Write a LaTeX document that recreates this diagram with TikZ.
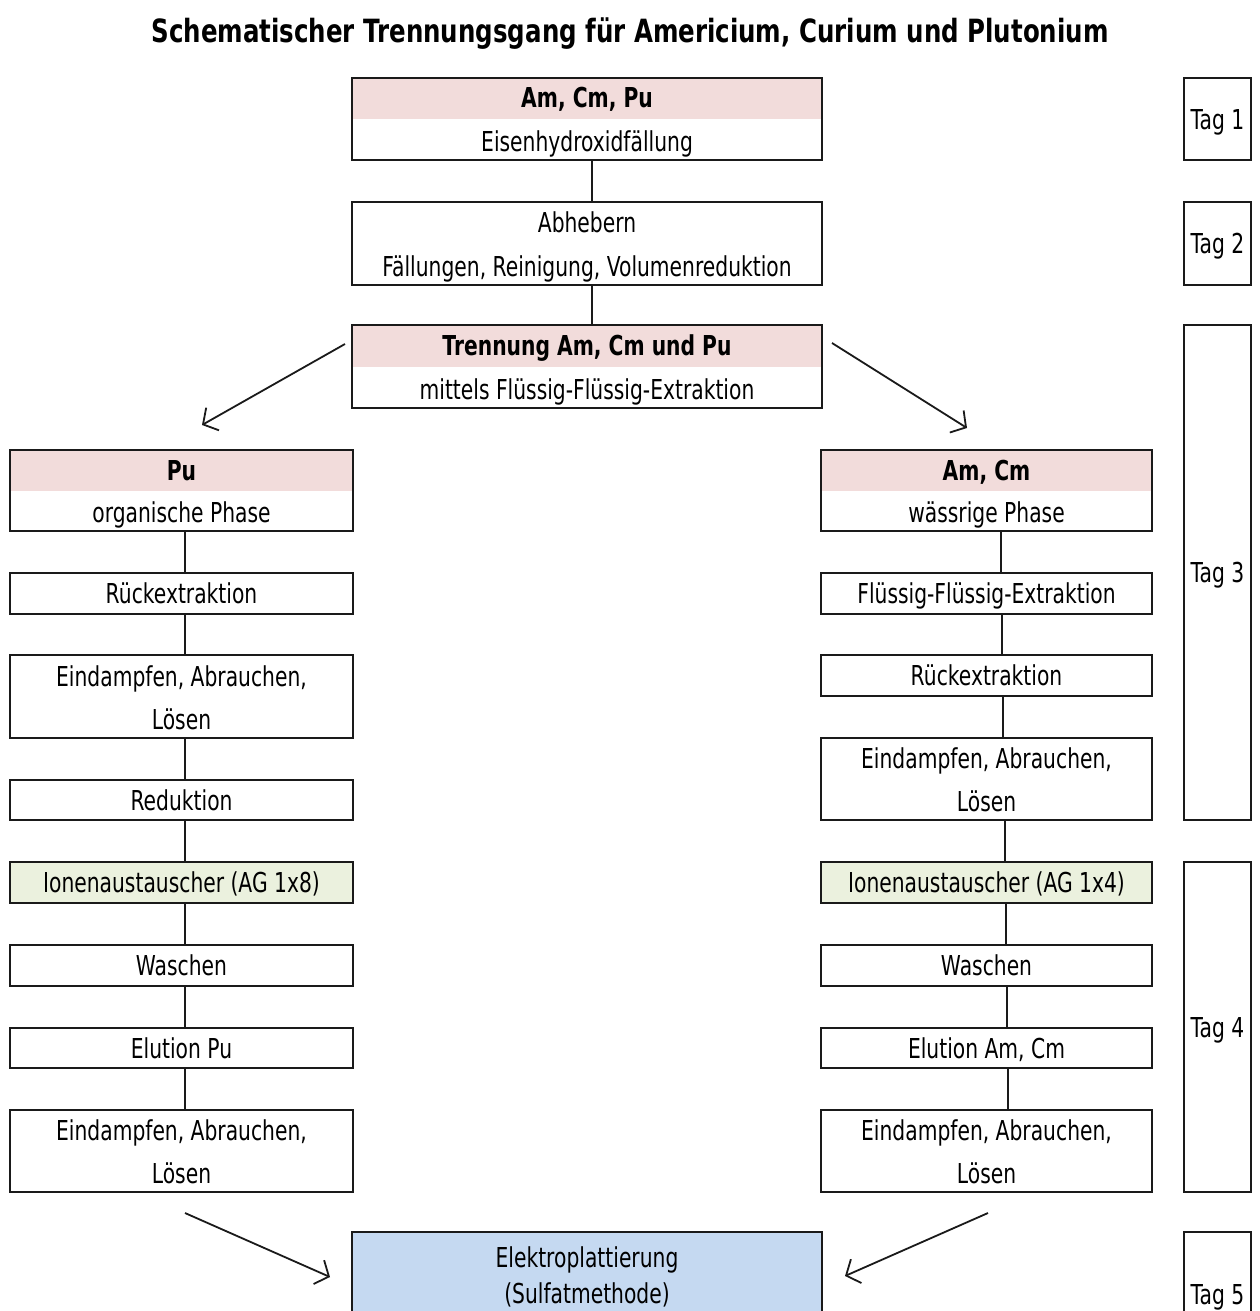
\documentclass[tikz,border=0pt]{standalone}
\usepackage{fontspec}
\setmainfont{DejaVu Sans}[FakeStretch=0.74]
\newfontfamily\titlefont{DejaVu Sans}[FakeStretch=0.765]
\usetikzlibrary{arrows.meta,calc}
\definecolor{pinkband}{HTML}{F2DCDB}
\definecolor{greenfill}{HTML}{EBF1DE}
\definecolor{bluefill}{HTML}{C5D9F1}
\definecolor{boxline}{HTML}{1A1A1A}
\begin{document}
\begin{tikzpicture}[x=1pt,y=-1pt,
  box/.style={draw=boxline, line width=2pt, rectangle, inner sep=0pt, fill=white,
    text height=20pt, text depth=0pt, font=\fontsize{27.4}{41}\selectfont},
  band/.style={path picture={\fill[pinkband] (path picture bounding box.north west) rectangle (path picture bounding box.east);}},
  txt/.style={inner sep=0pt, text height=20pt, text depth=0pt, font=\fontsize{27.4}{41}\selectfont},
  btxt/.style={txt, font=\fontsize{27.4}{41}\selectfont\bfseries},
  wtop/.style={minimum width=470pt},
  wl/.style={minimum width=343pt},
  wr/.style={minimum width=331pt},
  wt/.style={minimum width=67pt},
  conn/.style={draw=boxline, line width=2pt},
  arr/.style={draw=boxline, line width=1.8pt, -{Straight Barb[length=11pt,width=26pt,line width=1.8pt]}},
  ttl/.style={inner sep=0pt, text height=23pt, text depth=0pt, font=\titlefont\fontsize{32}{38}\selectfont\bfseries}
]
\useasboundingbox (0,0) rectangle (1259,1311);
\clip (0,0) rectangle (1259,1311);
\fill[white] (0,0) rectangle (1259,1311);

% title
\node[ttl] (title) at (630,31) {Schematischer Trennungsgang für Americium, Curium und Plutonium};

% top column
\node[box, band, wtop, minimum height=82pt] (A) at (587,119) {};
\node[btxt] (A1) at ([yshift=-21pt]A.north) {Am, Cm, Pu};
\node[txt] (A2) at ([yshift=20pt]A.south) {Eisenhydroxidfällung};

\node[box, wtop, minimum height=83pt] (B) at (587,243.5) {};
\node[txt] (B1) at ([yshift=-21pt]B.north) {Abhebern};
\node[txt] (B2) at ([yshift=20pt]B.south) {Fällungen, Reinigung, Volumenreduktion};

\node[box, band, wtop, minimum height=83pt] (C) at (587,366.5) {};
\node[btxt] (C1) at ([yshift=-21pt]C.north) {Trennung Am, Cm und Pu};
\node[txt] (C2) at ([yshift=20pt]C.south) {mittels Flüssig-Flüssig-Extraktion};

% left column
\node[box, band, wl, minimum height=81pt] (L1) at (181.5,490.5) {};
\node[btxt] (L1a) at ([yshift=-21pt]L1.north) {Pu};
\node[txt] (L1b) at ([yshift=20pt]L1.south) {organische Phase};
\node[box, wl, minimum height=41pt] (L2) at (181.5,593.5) {Rückextraktion};
\node[box, wl, minimum height=83pt] (L3) at (181.5,696.5) {};
\node[txt] (L3a) at ([yshift=-22pt]L3.north) {Eindampfen, Abrauchen,};
\node[txt] (L3b) at ([yshift=20pt]L3.south) {Lösen};
\node[box, wl, minimum height=40pt] (L4) at (181.5,800) {Reduktion};
\node[box, wl, minimum height=41pt, fill=greenfill] (L5) at (181.5,882.5) {Ionenaustauscher (AG 1x8)};
\node[box, wl, minimum height=41pt] (L6) at (181.5,965.5) {Waschen};
\node[box, wl, minimum height=40pt] (L7) at (181.5,1048) {Elution Pu};
\node[box, wl, minimum height=82pt] (L8) at (181.5,1151) {};
\node[txt] (L8a) at ([yshift=-21pt]L8.north) {Eindampfen, Abrauchen,};
\node[txt] (L8b) at ([yshift=20pt]L8.south) {Lösen};

% right column
\node[box, band, wr, minimum height=81pt] (R1) at (986.5,490.5) {};
\node[btxt] (R1a) at ([yshift=-21pt]R1.north) {Am, Cm};
\node[txt] (R1b) at ([yshift=20pt]R1.south) {wässrige Phase};
\node[box, wr, minimum height=41pt] (R2) at (986.5,593.5) {Flüssig-Flüssig-Extraktion};
\node[box, wr, minimum height=41pt] (R3) at (986.5,675.5) {Rückextraktion};
\node[box, wr, minimum height=82pt] (R4) at (986.5,779) {};
\node[txt] (R4a) at ([yshift=-21pt]R4.north) {Eindampfen, Abrauchen,};
\node[txt] (R4b) at ([yshift=20pt]R4.south) {Lösen};
\node[box, wr, minimum height=41pt, fill=greenfill] (R5) at (986.5,882.5) {Ionenaustauscher (AG 1x4)};
\node[box, wr, minimum height=41pt] (R6) at (986.5,965.5) {Waschen};
\node[box, wr, minimum height=40pt] (R7) at (986.5,1048) {Elution Am, Cm};
\node[box, wr, minimum height=82pt] (R8) at (986.5,1151) {};
\node[txt] (R8a) at ([yshift=-21pt]R8.north) {Eindampfen, Abrauchen,};
\node[txt] (R8b) at ([yshift=20pt]R8.south) {Lösen};

% final box
\node[box, wtop, minimum height=100pt, fill=bluefill] (E) at (587,1282) {};
\node[txt] (E1) at (587,1257) {Elektroplattierung};
\node[txt] (E2) at (587,1293) {(Sulfatmethode)};

% day boxes
\node[box, wt, minimum height=82pt] (T1) at (1217.5,119) {Tag 1};
\node[box, wt, minimum height=83pt] (T2) at (1217.5,243.5) {Tag 2};
\node[box, wt, minimum height=495pt] (T3) at (1217.5,572.5) {Tag 3};
\node[box, wt, minimum height=330pt] (T4) at (1217.5,1027) {Tag 4};
\node[box, wt, minimum height=100pt] (T5) at (1217.5,1282) {};
\node[txt] (T5a) at (1217.5,1294) {Tag 5};

% connectors
\draw[conn] ([xshift=5pt]A.south) -- ([xshift=5pt]B.north);
\draw[conn] ([xshift=5pt]B.south) -- ([xshift=5pt]C.north);
\foreach \a/\b in {L1/L2,L2/L3,L3/L4,L4/L5,L5/L6,L6/L7,L7/L8}
  \draw[conn] ([xshift=3.5pt]\a.south) -- ([xshift=3.5pt]\b.north);
\draw[conn] ([xshift=14pt]R1.south) -- ([xshift=14pt]R2.north);
\draw[conn] ([xshift=15pt]R2.south) -- ([xshift=15pt]R3.north);
\draw[conn] ([xshift=16.5pt]R3.south) -- ([xshift=16.5pt]R4.north);
\draw[conn] ([xshift=18pt]R4.south) -- ([xshift=18pt]R5.north);
\draw[conn] ([xshift=19pt]R5.south) -- ([xshift=19pt]R6.north);
\draw[conn] ([xshift=20pt]R6.south) -- ([xshift=20pt]R7.north);
\draw[conn] ([xshift=21pt]R7.south) -- ([xshift=21pt]R8.north);

% arrows
\coordinate (cl) at (345,344);
\coordinate (pl) at (202,425);
\coordinate (cr) at (832,343);
\coordinate (pr) at (967,428);
\coordinate (bl) at (185,1213);
\coordinate (el) at (330,1277);
\coordinate (br) at (988,1213);
\coordinate (er) at (845,1276);
\draw[arr] (cl) -- (pl);
\draw[arr] (cr) -- (pr);
\draw[arr] (bl) -- (el);
\draw[arr] (br) -- (er);
\end{tikzpicture}
\end{document}
